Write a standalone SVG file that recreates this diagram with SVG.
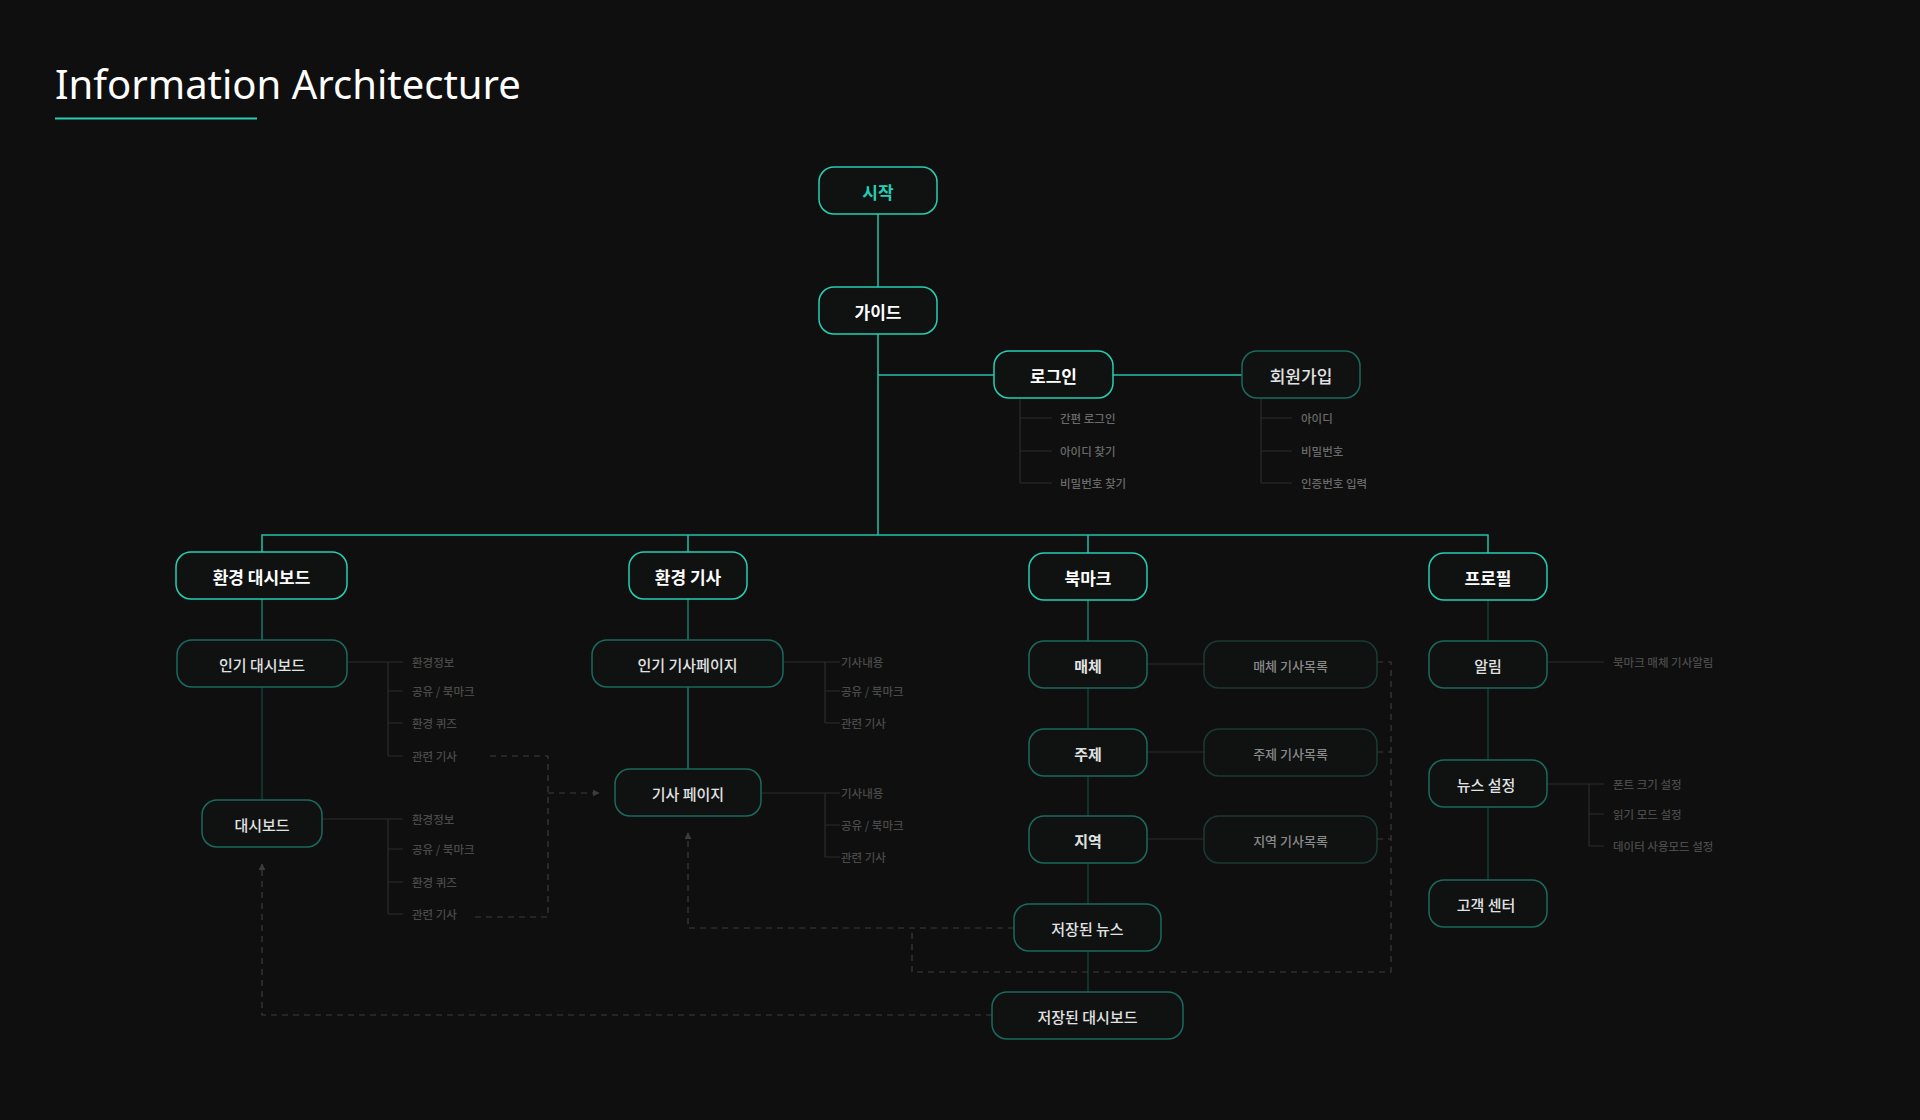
<svg xmlns="http://www.w3.org/2000/svg" width="1920" height="1120" viewBox="0 0 1920 1120">
<defs>
<style>
.bg{fill:#0f0f0f}
.n1 rect{fill:#101212;stroke:#26cfb3;stroke-width:1.5}
.n2 rect{fill:#101212;stroke:#1b6a5e;stroke-width:1.5}
.n3 rect{fill:#101212;stroke:#1c3a36;stroke-width:1.5}
.n1 text{font-family:"Noto Sans CJK KR","Noto Sans",sans-serif;font-size:17px;font-weight:700;fill:#ffffff;text-anchor:middle;dominant-baseline:central}
.n2 text{font-family:"Noto Sans CJK KR","Noto Sans",sans-serif;font-size:15px;font-weight:500;fill:#e2e2e2;text-anchor:middle;dominant-baseline:central}
.n3 text{font-family:"Noto Sans CJK KR","Noto Sans",sans-serif;font-size:13px;font-weight:500;fill:#8a8a8a;text-anchor:middle;dominant-baseline:central}
.sub{font-family:"Noto Sans CJK KR","Noto Sans",sans-serif;font-size:11.5px;font-weight:500;fill:#4a4a4a;dominant-baseline:central}
.subl{fill:#6a6a6a}
.main{stroke:#22c2a8;stroke-width:1.5;fill:none}
.lv1{stroke:#1d7a6b;stroke-width:1.5;fill:none}
.lv2{stroke:#173c37;stroke-width:1.5;fill:none}
.tree{stroke:#2c2c2c;stroke-width:1.2;fill:none}
.dash{stroke:#3c3c3c;stroke-width:1.2;fill:none;stroke-dasharray:6 5}
</style>
<marker id="arr" viewBox="0 0 10 10" refX="9" refY="5" markerWidth="7" markerHeight="7" orient="auto-start-reverse" markerUnits="userSpaceOnUse">
<path d="M0,0 L10,5 L0,10 z" fill="#3c3c3c"/>
</marker>
</defs>
<rect class="bg" x="0" y="0" width="1920" height="1120"/>

<g id="title">
<text x="55" y="99" font-family="'Noto Sans','Open Sans',sans-serif" font-size="40" fill="#ffffff">Information Architecture</text>
<rect x="55" y="117.5" width="202" height="2" fill="#26cfb3"/>
</g>

<g id="connectors">
<path class="main" d="M878,214 V287"/>
<path class="main" d="M878,334 V535"/>
<path class="main" d="M878,375 H994"/>
<path class="main" d="M1113,375 H1242"/>
<path class="main" d="M262,552 V535 H1488 V553"/>
<path class="main" d="M688,535 V552"/>
<path class="main" d="M1088,535 V553"/>
<path class="lv1" d="M262,599 V640"/>
<path class="lv2" d="M262,687 V800"/>
<path class="lv1" d="M688,599 V640"/>
<path class="lv1" d="M688,687 V769"/>
<path class="lv1" d="M1088,600 V641"/>
<path class="lv2" d="M1088,688 V729 M1088,775 V816 M1088,863 V904 M1088,951 V992"/>
<path class="lv2" d="M1488,600 V641 M1488,688 V760 M1488,807 V880"/>
<path class="tree" d="M1147,664 H1204 M1147,752 H1204 M1147,839 H1204"/>
<path class="tree" d="M1020,399 V483 M1020,418 H1052 M1020,451 H1052 M1020,483 H1052"/>
<path class="tree" d="M1261,398 V483 M1261,418 H1292 M1261,451 H1292 M1261,483 H1292"/>
<path class="tree" d="M347,662 H403 M388,662 V756 M388,691 H403 M388,723 H403 M388,756 H403"/>
<path class="tree" d="M322,819 H403 M388,819 V914 M388,849 H403 M388,882 H403 M388,914 H403"/>
<path class="tree" d="M783,662 H840 M825,662 V723 M825,691 H840 M825,723 H840"/>
<path class="tree" d="M761,793 H840 M825,793 V857 M825,825 H840 M825,857 H840"/>
<path class="tree" d="M1547,662 H1604"/>
<path class="tree" d="M1547,784 H1604 M1589,784 V846 M1589,814 H1604 M1589,846 H1604"/>
<path class="dash" d="M490,756 H548 V917 H474"/>
<path class="dash" d="M548,793 H599" marker-end="url(#arr)"/>
<path class="dash" d="M1014,928 H688 V833" marker-end="url(#arr)"/>
<path class="dash" d="M1377,662 H1391 V972 H912 V928 M1377,752 H1391 M1377,839 H1391"/>
<path class="dash" d="M992,1015 H262 V864" marker-end="url(#arr)"/>
</g>

<g id="n-start" class="n1"><rect x="819" y="167" width="118" height="47" rx="15"/><text x="878" y="191" style="fill:#26cfb3">시작</text></g>
<g id="n-guide" class="n1"><rect x="819" y="287" width="118" height="47" rx="15"/><text x="878" y="311">가이드</text></g>
<g id="n-login" class="n1"><rect x="994" y="351" width="119" height="47" rx="15"/><text x="1053.5" y="375">로그인</text></g>
<g id="n-signup" class="n2"><rect x="1242" y="351" width="118" height="47" rx="15"/><text x="1301" y="375" style="font-size:17px">회원가입</text></g>

<g id="login-items">
<text class="sub subl" x="1060" y="418">간편 로그인</text>
<text class="sub subl" x="1060" y="451">아이디 찾기</text>
<text class="sub subl" x="1060" y="483">비밀번호 찾기</text>
</g>
<g id="signup-items">
<text class="sub subl" x="1301" y="418">아이디</text>
<text class="sub subl" x="1301" y="451">비밀번호</text>
<text class="sub subl" x="1301" y="483">인증번호 입력</text>
</g>

<g id="n-envdash" class="n1"><rect x="176" y="552" width="171" height="47" rx="15"/><text x="261.5" y="576">환경 대시보드</text></g>
<g id="n-envart" class="n1"><rect x="629" y="552" width="118" height="47" rx="15"/><text x="688" y="576">환경 기사</text></g>
<g id="n-bookmark" class="n1"><rect x="1029" y="553" width="118" height="47" rx="15"/><text x="1088" y="577">북마크</text></g>
<g id="n-profile" class="n1"><rect x="1429" y="553" width="118" height="47" rx="15"/><text x="1488" y="577">프로필</text></g>

<g id="n-popdash" class="n2"><rect x="177" y="640" width="170" height="47" rx="15"/><text x="262" y="664">인기 대시보드</text></g>
<g id="popdash-items">
<text class="sub" x="412" y="662">환경정보</text>
<text class="sub" x="412" y="691">공유 / 북마크</text>
<text class="sub" x="412" y="723">환경 퀴즈</text>
<text class="sub" x="412" y="756">관련 기사</text>
</g>
<g id="n-dash" class="n2"><rect x="202" y="800" width="120" height="47" rx="15"/><text x="262" y="824">대시보드</text></g>
<g id="dash-items">
<text class="sub" x="412" y="819">환경정보</text>
<text class="sub" x="412" y="849">공유 / 북마크</text>
<text class="sub" x="412" y="882">환경 퀴즈</text>
<text class="sub" x="412" y="914">관련 기사</text>
</g>

<g id="n-popart" class="n2"><rect x="592" y="640" width="191" height="47" rx="15"/><text x="687.5" y="664">인기 기사페이지</text></g>
<g id="popart-items">
<text class="sub" x="841" y="662">기사내용</text>
<text class="sub" x="841" y="691">공유 / 북마크</text>
<text class="sub" x="841" y="723">관련 기사</text>
</g>
<g id="n-artpage" class="n2"><rect x="615" y="769" width="146" height="47" rx="15"/><text x="688" y="793">기사 페이지</text></g>
<g id="artpage-items">
<text class="sub" x="841" y="793">기사내용</text>
<text class="sub" x="841" y="825">공유 / 북마크</text>
<text class="sub" x="841" y="857">관련 기사</text>
</g>

<g id="n-media" class="n2"><rect x="1029" y="641" width="118" height="47" rx="15"/><text x="1088" y="665" style="font-weight:700">매체</text></g>
<g id="n-topic" class="n2"><rect x="1029" y="729" width="118" height="47" rx="15"/><text x="1088" y="753" style="font-weight:700">주제</text></g>
<g id="n-region" class="n2"><rect x="1029" y="816" width="118" height="47" rx="15"/><text x="1088" y="840" style="font-weight:700">지역</text></g>
<g id="n-medialist" class="n3"><rect x="1204" y="641" width="173" height="47" rx="15"/><text x="1290.5" y="665">매체 기사목록</text></g>
<g id="n-topiclist" class="n3"><rect x="1204" y="729" width="173" height="47" rx="15"/><text x="1290.5" y="753">주제 기사목록</text></g>
<g id="n-regionlist" class="n3"><rect x="1204" y="816" width="173" height="47" rx="15"/><text x="1290.5" y="840">지역 기사목록</text></g>
<g id="n-savednews" class="n2"><rect x="1014" y="904" width="147" height="47" rx="15"/><text x="1087.5" y="928">저장된 뉴스</text></g>
<g id="n-saveddash" class="n2"><rect x="992" y="992" width="191" height="47" rx="15"/><text x="1087.5" y="1016">저장된 대시보드</text></g>

<g id="n-alarm" class="n2"><rect x="1429" y="641" width="118" height="47" rx="15"/><text x="1488" y="665">알림</text></g>
<g id="alarm-items"><text class="sub" x="1613" y="662">북마크 매체 기사알림</text></g>
<g id="n-newsset" class="n2"><rect x="1429" y="760" width="118" height="47" rx="15"/><text x="1486" y="784">뉴스 설정</text></g>
<g id="newsset-items">
<text class="sub" x="1613" y="784">폰트 크기 설정</text>
<text class="sub" x="1613" y="814">읽기 모드 설정</text>
<text class="sub" x="1613" y="846">데이터 사용모드 설정</text>
</g>
<g id="n-support" class="n2"><rect x="1429" y="880" width="118" height="47" rx="15"/><text x="1486" y="904">고객 센터</text></g>
</svg>
